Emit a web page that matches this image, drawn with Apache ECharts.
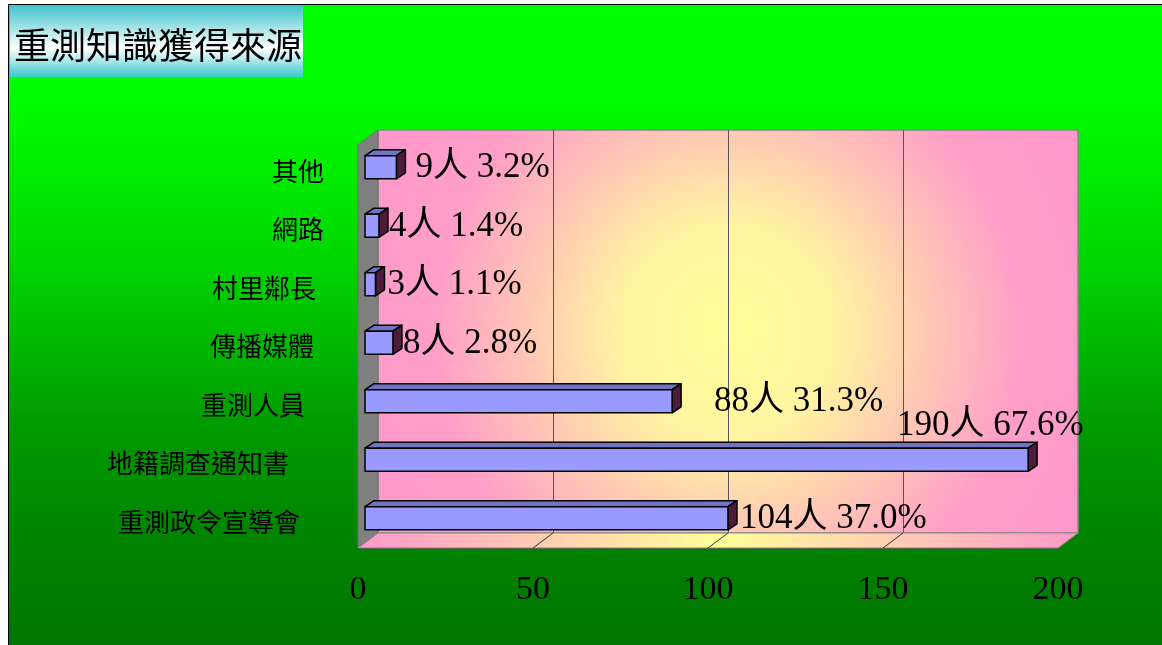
<!DOCTYPE html>
<html>
<head>
<meta charset="utf-8">
<script src="https://cdn.jsdelivr.net/npm/echarts@6/dist/echarts.min.js"></script>
<style>
  html, body { margin: 0; padding: 0; background: #fff; overflow: hidden; }
  #bg {
    position: absolute; left: 8px; top: 4px; width: 1170px; height: 660px;
    border-left: 1px solid #000; border-top: 1px solid #000;
    background: linear-gradient(to bottom, #00ff00 0%, #00ff00 13%, #00d800 38%, #009a00 64%, #008000 84%, #007400 100%);
  }
  #chart { position: absolute; left: 0; top: 0; width: 1162px; height: 645px; }
</style>
</head>
<body>
<div id="bg"></div>
<div id="chart"></div>
<script>
// ---- data ----
const titleText = '重測知識獲得來源';
const categories = ['其他', '網路', '村里鄰長', '傳播媒體', '重測人員', '地籍調查通知書', '重測政令宣導會'];
const counts = [9, 4, 3, 8, 88, 190, 104];
const percents = ['3.2', '1.4', '1.1', '2.8', '31.3', '67.6', '37.0'];
const axisMin = 0;
const axisMax = 200;
const axisStep = 50;

// ---- layout / style (not data) ----
const catLabelPadRight = [0, 0, 8, 10, 19, 35, 24];
const valueLabelShift = [[9, 0], [0, 0], [2, 0], [0, 0], [32, 0], [-141, -35], [2, 0]];
const WALL = { left: 378, top: 130, right: 1078, bottom: 533 };
const FRONT = { left: 358, right: 1058, y: 548 };
const W = 1162, H = 645;
const CJK = '"Noto Sans CJK TC", "Noto Sans CJK SC", sans-serif';
const NUMFONT = '"Liberation Serif", "Noto Sans CJK TC", serif';

const chart = echarts.init(document.getElementById('chart'), null, { renderer: 'canvas' });

const tickVals = [];
for (let v = axisMin + axisStep; v < axisMax; v += axisStep) tickVals.push(v);
const fx = v => FRONT.left + (v - axisMin) / (axisMax - axisMin) * (FRONT.right - FRONT.left);
const bx = v => WALL.left + (v - axisMin) / (axisMax - axisMin) * (WALL.right - WALL.left);

const rich = {};
catLabelPadRight.forEach((p, i) => {
  rich['p' + i] = { padding: [0, p, 0, 0], fontSize: 26, fontFamily: CJK, color: '#000' };
});

const graphics = [
  {
    type: 'rect', z: 1,
    shape: { x: 10, y: 5, width: 293, height: 72 },
    style: {
      fill: new echarts.graphic.LinearGradient(0, 0, 0, 1, [
        { offset: 0, color: '#3cc4cc' },
        { offset: 0.6, color: '#ffffff' },
        { offset: 1, color: '#3cc8cc' }
      ])
    }
  },
  {
    type: 'text', z: 2, x: 14, y: 45,
    style: { text: titleText, font: '36px ' + CJK, fill: '#000', verticalAlign: 'middle', align: 'left' }
  },
  {
    type: 'polygon', z: 1,
    shape: { points: [[FRONT.left, FRONT.y - 3], [FRONT.left, WALL.top + 15], [WALL.left, WALL.top], [WALL.left, WALL.bottom], [FRONT.left, FRONT.y]] },
    style: { fill: '#808080', stroke: '#707070', lineWidth: 1 }
  },
  {
    type: 'polygon', z: 1,
    shape: { points: [[FRONT.left, FRONT.y], [WALL.left, WALL.bottom], [WALL.right, WALL.bottom], [FRONT.right, FRONT.y]] },
    style: {
      fill: new echarts.graphic.LinearGradient(0, 0, 1, 0, [
        { offset: 0, color: '#ff99cc' },
        { offset: 0.5, color: '#ffff99' },
        { offset: 1, color: '#ff99cc' }
      ]),
      stroke: '#888', lineWidth: 1
    }
  }
];
tickVals.forEach(v => {
  graphics.push({
    type: 'line', z: 2,
    shape: { x1: fx(v), y1: FRONT.y, x2: bx(v), y2: WALL.bottom },
    style: { stroke: '#333', lineWidth: 1 }
  });
});

const barData = counts.map((c, i) => [c, i]);

const option = {
  backgroundColor: 'transparent',
  animation: false,
  graphic: graphics,
  grid: [
    { left: 365, right: W - 1063, top: 138, bottom: H - 547.5, show: false },
    {
      left: WALL.left, right: W - WALL.right, top: WALL.top, bottom: H - WALL.bottom, show: true,
      backgroundColor: new echarts.graphic.RadialGradient(0.5, 0.5, 0.95, [
        { offset: 0, color: '#ffff99' },
        { offset: 0.28, color: '#fff4a2' },
        { offset: 0.52, color: '#ffc8b4' },
        { offset: 0.76, color: '#ff9fc8' },
        { offset: 1, color: '#ff99cc' }
      ]),
      borderColor: '#888', borderWidth: 1.5
    },
    { left: FRONT.left, right: W - FRONT.right, top: WALL.top, bottom: H - FRONT.y, show: false }
  ],
  xAxis: [
    { gridIndex: 0, type: 'value', min: axisMin, max: axisMax, interval: axisStep, show: false },
    {
      gridIndex: 1, type: 'value', min: axisMin, max: axisMax, interval: axisStep,
      axisLine: { show: false }, axisTick: { show: false }, axisLabel: { show: false },
      splitLine: { show: true, lineStyle: { color: ['transparent', '#555', '#555', '#555', 'transparent'], width: 1 } }
    },
    {
      gridIndex: 2, type: 'value', min: axisMin, max: axisMax, interval: axisStep,
      axisLine: { show: true, lineStyle: { color: '#333', width: 1.5 } },
      axisTick: { show: false },
      splitLine: { show: false },
      axisLabel: { show: true, margin: 25, fontSize: 34, fontFamily: NUMFONT, color: '#000' }
    }
  ],
  yAxis: [
    {
      gridIndex: 0, type: 'category', inverse: true, data: categories,
      axisLine: { show: false }, axisTick: { show: false }, splitLine: { show: false },
      axisLabel: {
        margin: 41, padding: [7, 0, 0, 0],
        formatter: (val, idx) => '{p' + idx + '|' + val + '}',
        rich: rich
      }
    },
    { gridIndex: 1, type: 'value', show: false },
    { gridIndex: 2, type: 'value', show: false }
  ],
  series: [
    {
      type: 'custom',
      xAxisIndex: 0, yAxisIndex: 0,
      z: 5,
      data: barData,
      encode: { x: 0, y: 1 },
      renderItem: function (params, api) {
        const val = api.value(0);
        const idx = api.value(1);
        const p0 = api.coord([axisMin, idx]);
        const p1 = api.coord([val, idx]);
        const band = api.size([0, 1])[1];
        const h = band * 0.395;
        const dx = 9, dy = -6;
        const x0 = p0[0], x1 = p1[0], yc = p1[1];
        const t = yc - h / 2, b = yc + h / 2;
        const stroke = { stroke: '#000', lineWidth: 1.5, lineJoin: 'round' };
        const sh = valueLabelShift[idx] || [0, 0];
        return {
          type: 'group',
          children: [
            {
              type: 'polygon',
              shape: { points: [[x0, t], [x0 + dx, t + dy], [x1 + dx, t + dy], [x1, t]] },
              style: Object.assign({ fill: '#7373c4' }, stroke)
            },
            {
              type: 'polygon',
              shape: { points: [[x1, t], [x1 + dx, t + dy], [x1 + dx, b + dy], [x1, b]] },
              style: Object.assign({ fill: '#4d1c3a' }, stroke)
            },
            {
              type: 'rect',
              shape: { x: x0, y: t, width: x1 - x0, height: h },
              style: Object.assign({ fill: '#9999ff' }, stroke)
            },
            {
              type: 'text',
              x: x1 + dx + 1 + sh[0],
              y: yc + 1 + sh[1],
              style: {
                text: counts[idx] + '人 ' + percents[idx] + '%',
                font: '35px ' + NUMFONT,
                fill: '#000',
                verticalAlign: 'middle',
                align: 'left'
              }
            }
          ]
        };
      }
    }
  ]
};

chart.setOption(option);
</script>
</body>
</html>
